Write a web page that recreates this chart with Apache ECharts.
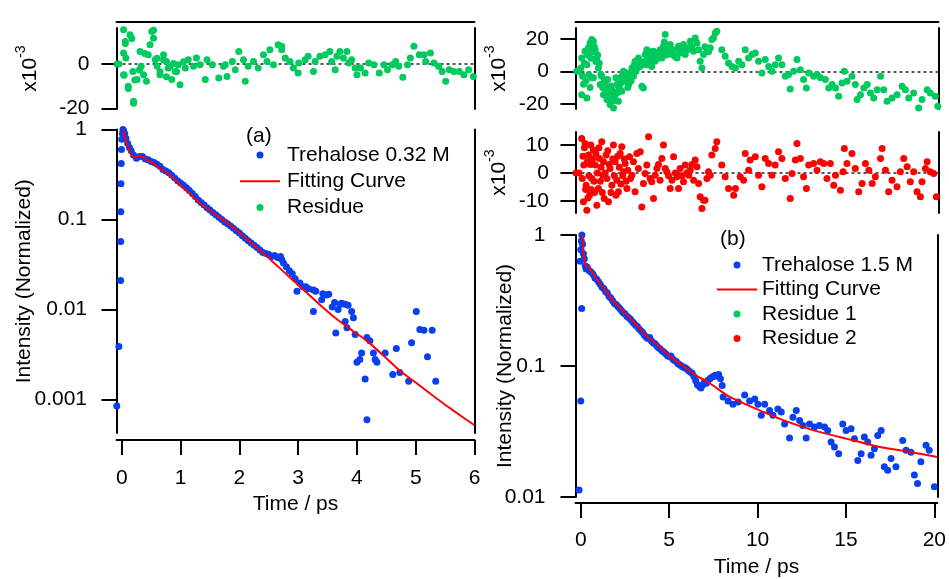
<!DOCTYPE html>
<html><head><meta charset="utf-8">
<script src="https://cdn.jsdelivr.net/npm/echarts@6/dist/echarts.min.js"></script>
<style>html,body{margin:0;padding:0;background:#fff}#c{width:949px;height:579px}</style>
</head><body><div id="c"></div>
<script>
// ---------------- Panel (a) ----------------
const aTickX = [0, 1, 2, 3, 4, 5, 6];
const aTickY = [0.001, 0.01, 0.1, 1];
const aResTickY = [-20, 0];
const aData = [
[-0.085,0.00085],[-0.05,0.0039],[-0.02,0.021],[-0.018,0.057],[-0.016,0.122],[-0.014,0.25],[-0.01,0.42],[-0.005,0.6],[0.0,0.78],[0.01,0.9],[0.02,1.0],[0.03,0.97],[0.05,0.9],[0.07,0.8],[0.1,0.7],[0.13,0.63],[0.16,0.58],[0.2,0.52],[0.25,0.48],[0.3,0.5],[0.35,0.5],[0.4,0.47],[0.45,0.46],[0.5,0.44],[0.55,0.43],[0.6,0.41],[0.65,0.39],[0.7,0.36],[0.75,0.345],[0.8,0.33],[0.85,0.31],[0.9,0.29],[0.95,0.27],[1.0,0.255],[1.05,0.24],[1.1,0.225],[1.15,0.21],[1.2,0.195],[1.25,0.18],[1.3,0.165],[1.35,0.155],[1.4,0.145],[1.45,0.135],[1.5,0.128],[1.55,0.12],[1.6,0.113],[1.65,0.106],[1.7,0.1],[1.75,0.094],[1.8,0.09],[1.85,0.085],[1.9,0.08],[1.95,0.075],[2.0,0.071],[2.05,0.066],[2.1,0.062],[2.15,0.058],[2.2,0.055],[2.25,0.052],[2.3,0.049],[2.35,0.046],[2.4,0.043],[2.45,0.042],[2.5,0.041],[2.55,0.039],[2.6,0.04],[2.65,0.038],[2.7,0.039],[2.72,0.036],[2.75,0.033],[2.8,0.03],[2.85,0.027],[2.9,0.025],[2.95,0.022],[2.98,0.016],[3.03,0.0197],[3.08,0.018],[3.13,0.018],[3.18,0.017],[3.26,0.0165],[3.3,0.016],[3.26,0.0095],[3.4,0.0129],[3.42,0.015],[3.48,0.0145],[3.52,0.0148],[3.58,0.0107],[3.62,0.012],[3.64,0.0055],[3.68,0.010],[3.72,0.0115],[3.74,0.0118],[3.8,0.0074],[3.8,0.0115],[3.83,0.0063],[3.85,0.0112],[3.91,0.0095],[3.94,0.0081],[3.97,0.0053],[4.0,0.0026],[4.05,0.0028],[4.08,0.0033],[4.14,0.0017],[4.17,0.0006],[4.17,0.0049],[4.22,0.0045],[4.28,0.0033],[4.31,0.0028],[4.34,0.0026],[4.48,0.0033],[4.61,0.0019],[4.67,0.0037],[4.73,0.002],[4.88,0.0016],[4.93,0.0043],[5.01,0.0095],[5.07,0.006],[5.14,0.0059],[5.2,0.003],[5.28,0.0059],[5.34,0.0016]
];
const aFitX = [0.02,0.05,0.085,0.13,0.2,0.3,0.4,0.48,0.6,0.77,1.0,1.33,1.6,1.9,2.2,2.47,2.8,3.1,3.37,3.6,3.9,4.17,4.45,4.73,5.0,5.3,5.6,6.0];
const aFitY = [1.0,0.86,0.70,0.58,0.50,0.51,0.47,0.44,0.39,0.33,0.24,0.152,0.113,0.081,0.055,0.039,0.0247,0.0164,0.0113,0.0084,0.006,0.0045,0.0031,0.0021,0.00155,0.0011,0.00079,0.00052];
const aResidue = [
[-0.08,0],[-0.05,0],[0.03,15.5],[0.03,5],[0.04,-5],[0.06,10.2],[0.06,9.3],[0.07,2.7],[0.03,-4.8],[0.11,-10],[0.11,-11],[0.14,13.2],[0.17,11.6],[0.19,-3.3],[0.2,-16.8],[0.2,-17.7],[0.22,-7.2],[0.26,-7],[0.3,-2.7],[0.31,5.7],[0.33,-1],[0.37,-4.8],[0.39,4.8],[0.42,-7.8],[0.45,4.2],[0.48,8.7],[0.51,14.7],[0.54,11.7],[0.54,15.3],[0.57,2],[0.6,-1],[0.6,2.6],[0.65,-4.8],[0.65,-3.5],[0.71,4.2],[0.71,1.8],[0.76,1.2],[0.76,-5.7],[0.79,-1.8],[0.82,-1.2],[0.85,-7],[0.88,0.3],[0.91,-3.3],[0.93,-3.5],[0.96,-0.3],[0.99,-9.3],[1.05,1.1],[1.08,-1.8],[1.13,2],[1.22,-1],[1.27,2.7],[1.33,-0.3],[1.42,-7],[1.45,2],[1.54,-0.3],[1.65,-6.3],[1.73,-1],[1.76,-0.3],[1.79,-5.6],[1.88,1.2],[1.93,-2.6],[1.99,5.7],[2.07,2],[2.1,-7.8],[2.15,-1],[2.24,1.2],[2.32,-1.8],[2.41,4.2],[2.47,1.2],[2.52,6.5],[2.58,-0.3],[2.66,8.7],[2.72,6.5],[2.72,8],[2.78,2.7],[2.86,1.2],[2.92,-1.8],[3.0,-4],[3.01,0.5],[3.12,2],[3.17,3.5],[3.26,-3.3],[3.29,1.2],[3.37,3.5],[3.46,4.2],[3.54,5.7],[3.57,1.2],[3.63,-2.6],[3.66,3.5],[3.71,5.7],[3.77,2.7],[3.83,5.7],[3.86,0.5],[3.91,2],[3.97,-1.8],[4.0,-4.8],[4.06,-1.8],[4.14,-4],[4.2,0.5],[4.29,-0.3],[4.38,-4],[4.46,-0.3],[4.52,-2.6],[4.6,-0.3],[4.66,1.2],[4.71,-1],[4.78,-6],[4.86,-0.3],[4.91,2.7],[4.97,8],[5.06,4.2],[5.14,4.2],[5.17,1.2],[5.25,5],[5.31,0.5],[5.39,-1],[5.45,-3.3],[5.51,-7.8],[5.57,-2.6],[5.65,-3.3],[5.74,-3.3],[5.82,-4.8],[5.9,-2.6],[5.98,-5.6]
];

// ---------------- Panel (b) ----------------
const bTickX = [0, 5, 10, 15, 20];
const bTickY = [0.01, 0.1, 1];
const bRes1TickY = [-20, 0, 20];
const bRes2TickY = [-10, 0, 10];
const bData = [
[-0.1,0.0113],[0.0,0.054],[0.05,0.275],[-0.04,0.63],[0.0,0.77],[0.03,0.9],[0.06,1.0],[0.1,0.85],[0.15,0.72],[0.2,0.66],[0.25,0.58],[0.3,0.55],[0.35,0.57],[0.4,0.55],[0.5,0.53],[0.6,0.52],[0.7,0.5],[0.8,0.47],[0.9,0.46],[1.0,0.44],[1.1,0.42],[1.2,0.4],[1.3,0.39],[1.4,0.37],[1.5,0.36],[1.6,0.34],[1.7,0.33],[1.8,0.315],[1.9,0.3],[2.0,0.295],[2.1,0.285],[2.2,0.275],[2.3,0.265],[2.4,0.255],[2.5,0.25],[2.6,0.24],[2.7,0.235],[2.8,0.228],[2.9,0.22],[3.0,0.212],[3.1,0.205],[3.2,0.2],[3.3,0.192],[3.4,0.186],[3.5,0.18],[3.6,0.172],[3.7,0.166],[3.8,0.162],[3.9,0.165],[4.0,0.155],[4.1,0.15],[4.2,0.148],[4.3,0.142],[4.4,0.138],[4.5,0.135],[4.6,0.13],[4.7,0.128],[4.8,0.124],[4.9,0.12],[5.0,0.118],[5.1,0.119],[5.2,0.113],[5.3,0.11],[5.4,0.108],[5.5,0.104],[5.6,0.102],[5.7,0.1],[5.8,0.098],[5.9,0.097],[6.0,0.095],[6.1,0.092],[6.2,0.09],[6.3,0.088],[6.4,0.083],[6.5,0.077],[6.6,0.072],[6.7,0.07],[6.8,0.068],[6.9,0.072],[7.0,0.075],[7.1,0.074],[7.2,0.078],[7.3,0.08],[7.4,0.082],[7.5,0.083],[7.6,0.085],[7.7,0.084],[7.8,0.086],[7.9,0.08],[8.0,0.071],[8.05,0.058],[8.33,0.054],[8.61,0.051],[8.9,0.053],[9.27,0.06],[9.55,0.054],[9.84,0.056],[10.02,0.051],[10.21,0.042],[10.4,0.051],[10.68,0.0457],[10.87,0.042],[11.15,0.047],[11.34,0.0445],[11.53,0.036],[11.81,0.0282],[12.0,0.0407],[12.19,0.0457],[12.38,0.0384],[12.56,0.0352],[12.75,0.0282],[12.94,0.036],[13.22,0.0342],[13.5,0.0352],[13.79,0.0342],[13.97,0.0322],[14.16,0.0263],[14.35,0.0241],[14.59,0.0214],[14.82,0.036],[15.01,0.0322],[15.29,0.0332],[15.48,0.0279],[15.67,0.019],[15.86,0.0214],[16.04,0.0287],[16.23,0.0263],[16.42,0.0208],[16.61,0.0234],[16.8,0.0295],[16.99,0.0322],[17.17,0.017],[17.36,0.016],[17.55,0.0197],[17.83,0.017],[18.21,0.027],[18.4,0.0227],[18.68,0.022],[18.87,0.0147],[19.05,0.0127],[19.24,0.0186],[19.53,0.0248],[19.71,0.0227],[20.0,0.012],[20.18,0.0147]
];
const bFitX = [0.06,0.15,0.24,0.3,0.5,0.81,1.3,1.84,2.3,2.78,3.2,3.72,4.4,5.04,5.8,6.55,7.0,7.48,8.43,9.93,11.25,13.13,15.0,16.9,18.77,20.17];
const bFitY = [1.0,0.77,0.60,0.575,0.56,0.48,0.39,0.312,0.27,0.233,0.202,0.169,0.142,0.119,0.1,0.084,0.078,0.071,0.058,0.047,0.0395,0.0324,0.0279,0.0241,0.0219,0.0202];
const bResidue1 = [
[-0.23,0],[-0.1,0],[0.0,2],[0.05,8.2],[0.05,-14.4],[0.1,-3],[0.15,-8],[0.2,5],[0.24,12.3],[0.28,-6],[0.34,4],[0.34,-16.4],[0.38,10],[0.43,14.4],[0.45,-2],[0.52,17.4],[0.52,-10],[0.57,8],[0.62,19.5],[0.62,-4],[0.66,12],[0.71,18.5],[0.71,-4],[0.76,15],[0.81,13.3],[0.85,6],[0.9,8.2],[0.95,10],[0.99,2],[1.04,5],[1.09,-8.2],[1.13,-2],[1.18,-3],[1.23,-10],[1.28,-14.4],[1.32,-6],[1.37,-8.2],[1.42,-12],[1.47,-17.4],[1.51,-5],[1.56,-11.3],[1.6,-15],[1.65,-20.5],[1.7,-9],[1.75,-16.4],[1.8,-12],[1.84,-22.6],[1.89,-18],[1.94,-14.4],[1.98,-4],[2.03,-8.2],[2.08,-13],[2.12,-18.5],[2.17,-10],[2.22,-4],[2.26,-7],[2.31,-12.3],[2.36,-2],[2.41,0],[2.45,-5],[2.5,-6.2],[2.55,-1],[2.6,-3],[2.65,-10],[2.69,-8.2],[2.74,-4],[2.78,-1],[2.83,-6],[2.88,2],[2.93,0],[2.97,-3],[3.02,4],[3.06,6.2],[3.11,0],[3.16,2],[3.2,5],[3.25,8.2],[3.3,6],[3.35,3],[3.44,-9.2],[3.53,-10.3],[3.58,6],[3.63,10.3],[3.68,4],[3.72,13.3],[3.77,7],[3.82,4],[3.87,9],[3.91,8.2],[3.96,12],[4.0,3],[4.05,7],[4.1,12.3],[4.15,9],[4.19,6.2],[4.24,11],[4.29,10.3],[4.38,8],[4.47,13.3],[4.52,10],[4.57,8.2],[4.62,12],[4.66,15.4],[4.71,18],[4.76,22.6],[4.8,10],[4.85,12.3],[4.95,14],[5.04,16.4],[5.09,12],[5.14,10.3],[5.23,13.3],[5.33,9],[5.42,8.2],[5.51,15.4],[5.56,11],[5.6,12.3],[5.7,14],[5.79,16.4],[5.89,10.3],[5.98,13],[6.08,14.4],[6.17,18.5],[6.27,15],[6.36,12.3],[6.45,20.5],[6.55,17.4],[6.64,13.3],[6.73,6.2],[6.83,2],[6.92,10.3],[7.0,15],[7.11,13.3],[7.2,12],[7.3,14.4],[7.39,19.5],[7.48,20.5],[7.58,23.6],[7.67,24.6],[7.77,26.7],[7.86,27.7],[7.95,13.3],[8.14,9.2],[8.33,5.1],[8.52,3],[8.72,2],[8.9,6.2],[9.08,4],[9.27,13.3],[9.46,8.2],[9.65,10.3],[9.84,11.3],[10.02,6.2],[10.21,-1],[10.4,7.2],[10.59,3],[10.78,0],[10.96,4],[11.15,8.2],[11.34,4],[11.53,-3],[11.72,-2],[11.81,-10.9],[12.0,0],[12.19,7.2],[12.38,1],[12.56,-5.1],[12.72,-10.3],[12.85,-1],[13.13,-3],[13.32,-2],[13.51,-4],[13.79,-5.1],[13.98,-10.3],[14.17,-8.2],[14.36,-10.3],[14.54,-15.4],[14.73,-7.2],[14.86,0],[15.01,-6.2],[15.29,-3],[15.48,-8.2],[15.58,-17.4],[15.77,-14.4],[15.96,-10.3],[16.15,-8.2],[16.33,-13.3],[16.52,-16.4],[16.71,-11.3],[16.9,-3],[17.08,-11.3],[17.27,-18.5],[17.55,-16.4],[17.83,-14.4],[18.12,-9.2],[18.3,-11.3],[18.49,-16.4],[18.77,-13.3],[19.05,-22.6],[19.24,-17.4],[19.53,-11.3],[19.71,-13.3],[19.99,-15.4],[20.13,-21.5]
];
const bResidue2 = [
[-0.27,0],[-0.1,0],[0.05,12.4],[0.08,-2],[0.12,6],[0.15,-10.4],[0.17,2.8],[0.2,9],[0.24,10.6],[0.27,-6],[0.3,-4.4],[0.34,-13.4],[0.37,4],[0.4,-9],[0.43,6.4],[0.46,-1],[0.49,-8],[0.53,3],[0.56,10],[0.59,-6],[0.62,-2],[0.66,5],[0.71,8.2],[0.74,-3],[0.78,-7],[0.81,2.8],[0.85,7],[0.9,-11.6],[0.93,0],[0.99,-5.6],[1.02,9],[1.05,5.2],[1.1,-3],[1.14,2],[1.18,11.2],[1.21,-7],[1.24,-0.8],[1.28,4],[1.32,-9.2],[1.37,0],[1.43,6.4],[1.47,-2],[1.52,8],[1.56,-10.4],[1.6,3],[1.65,1.6],[1.7,-7],[1.75,-4.4],[1.8,5],[1.84,10],[1.89,-1],[1.94,4],[1.98,-8],[2.03,-2.6],[2.08,6],[2.12,-6.8],[2.17,2],[2.22,7],[2.26,-4],[2.31,9.4],[2.36,-1],[2.41,0.4],[2.45,5],[2.5,3.4],[2.55,-3],[2.6,-5.6],[2.65,1],[2.75,5.8],[2.8,-2],[2.88,-0.8],[2.97,4],[3.06,-6.8],[3.16,7],[3.25,1.6],[3.35,7.6],[3.44,-12.2],[3.53,-3.8],[3.63,-0.2],[3.72,2.8],[3.82,13],[3.91,-2],[4.0,-3.2],[4.1,-9.2],[4.19,-0.8],[4.29,1.6],[4.38,3],[4.47,-2.6],[4.57,5.2],[4.66,10],[4.76,1.6],[4.85,0.4],[4.95,-1],[5.04,-5.6],[5.14,-2.6],[5.23,5.8],[5.33,0],[5.42,-1.4],[5.51,-5.6],[5.6,1.6],[5.7,-1],[5.79,-3.2],[5.89,2.8],[5.98,0],[6.08,-0.8],[6.17,1],[6.27,3],[6.36,-2.6],[6.45,4.6],[6.55,2.2],[6.64,-3.8],[6.73,-8.6],[6.83,-12.8],[6.92,-9.8],[7.0,-9.8],[7.11,-2],[7.2,0.4],[7.3,-0.8],[7.39,6.4],[7.58,8.8],[7.67,11.2],[7.82,15.3],[7.95,2.8],[8.14,-1.4],[8.33,-5.6],[8.62,-8],[8.72,-5.6],[8.99,-1.4],[9.18,-2.6],[9.27,7],[9.46,1],[9.55,4.6],[9.84,5.8],[10.02,-0.8],[10.21,-5],[10.4,5.2],[10.59,3.4],[10.78,-0.8],[10.96,2.8],[11.15,7.6],[11.34,5.2],[11.53,-2],[11.81,-9.2],[11.91,-0.2],[12.1,4.6],[12.19,10.6],[12.38,5.2],[12.56,-1.4],[12.72,-5.6],[12.85,2.8],[13.13,3.4],[13.32,1],[13.51,4],[13.7,3.4],[13.88,-2],[14.07,3.4],[14.26,-4.4],[14.36,-0.8],[14.64,-6.2],[14.79,0.4],[14.86,8.8],[15.01,3.4],[15.29,7],[15.48,1.6],[15.67,-6.8],[15.86,-3.8],[16.05,3.4],[16.24,1],[16.43,-3.8],[16.61,-1.4],[16.9,5.2],[16.99,8.8],[17.18,1],[17.36,-6.8],[17.55,-2.6],[17.83,-5],[18.02,0.4],[18.21,5.2],[18.4,2.2],[18.58,-3.2],[18.77,0.4],[18.96,-6.8],[19.15,-8.6],[19.24,-3.2],[19.43,1.6],[19.53,4],[19.71,0.4],[19.9,-0.2],[20.05,-8.6],[20.18,-6.2]
];

// ---------------- build ----------------
const FONT = '"Liberation Sans", Arial, sans-serif';
const BLUE = '#0a3ff0', GREEN = '#00c95e', RED = '#ff0000';
const lg = v => Math.log10(v);
const logPts = arr => arr.map(p => [p[0], lg(p[1])]);
const fitPts = (xs, ys) => xs.map((x, i) => [x, lg(ys[i])]);
const fmtLog = v => String(Number(Math.pow(10, v).toPrecision(1)));

const lineStyle = {color: '#000', width: 2};
const txt = {fontSize: 21, fontFamily: FONT, color: '#000'};

function xAx(grid, min, max, ticks, margin, opts) {
  return Object.assign({
    type: 'value', gridIndex: grid, min, max, position: 'bottom', nameMoveOverlap: false,
    axisLine: {show: true, onZero: false, lineStyle},
    axisTick: {show: true, inside: false, length: 15, lineStyle, customValues: ticks},
    axisLabel: {show: true, customValues: ticks, margin, ...txt},
    splitLine: {show: false}
  }, opts || {});
}
function xTop(grid, min, max) {
  return {type: 'value', gridIndex: grid, min, max, position: 'top', offset: 6,
    axisLine: {show: true, onZero: false, lineStyle}, axisTick: {show: false},
    axisLabel: {show: false}, splitLine: {show: false}};
}
function xHidden(grid, min, max) {
  return {type: 'value', gridIndex: grid, min, max, show: false, axisLine: {onZero: false}};
}
function yAx(grid, min, max, ticks, fmt, margin, opts) {
  return Object.assign({
    type: 'value', gridIndex: grid, min, max, position: 'left', nameMoveOverlap: false,
    axisLine: {show: true, onZero: false, lineStyle},
    axisTick: {show: true, inside: false, length: 15, lineStyle, customValues: ticks},
    axisLabel: {show: true, customValues: ticks, formatter: fmt, margin, ...txt},
    splitLine: {show: false}
  }, opts || {});
}
function yRight(grid, min, max) {
  return {type: 'value', gridIndex: grid, min, max, position: 'right',
    axisLine: {show: true, onZero: false, lineStyle}, axisTick: {show: false},
    axisLabel: {show: false}, splitLine: {show: false}};
}
const resName = {
  name: '{n|x10}{s|-3}', nameLocation: 'middle', nameRotate: 90,
  nameTextStyle: {...txt, rich: {n: {fontSize: 21, fontFamily: FONT, color: '#000', lineHeight: 32},
                                 s: {fontSize: 14, fontFamily: FONT, color: '#000', verticalAlign: 'top', lineHeight: 14}}}
};
const zeroLine = {silent: true, symbol: 'none', z: 1, animation: false, label: {show: false},
  lineStyle: {color: '#222', type: [3, 3], width: 1.5}, data: [{yAxis: 0}]};

const aXmin = -0.09, aXmax = 6, bXmin = -0.3, bXmax = 20.17;
const intensityName = {name: 'Intensity (Normalized)', nameLocation: 'middle', nameRotate: 90, nameTextStyle: txt};
const logFmt = v => fmtLog(v);
const intFmt = v => String(v);
const lineIcon = 'path://M0,0H40V2H0Z';

const option = {
  animation: false,
  backgroundColor: '#fff',
  grid: [
    {left: 116.5, top: 28, width: 358, height: 81},
    {left: 116.5, top: 129.5, width: 358, height: 303.5},
    {left: 575.5, top: 28, width: 363, height: 81},
    {left: 575.5, top: 132, width: 363, height: 81},
    {left: 575.5, top: 235, width: 363, height: 264}
  ],
  xAxis: [
    xTop(0, aXmin, aXmax),
    xAx(1, aXmin, aXmax, aTickX, 28, {offset: 7, name: 'Time / ps', nameLocation: 'middle', nameGap: 54, nameTextStyle: txt}),
    xTop(2, bXmin, bXmax),
    xHidden(3, bXmin, bXmax),
    xAx(4, bXmin, bXmax, bTickX, 27, {offset: 6, name: 'Time / ps', nameLocation: 'middle', nameGap: 54, nameTextStyle: txt})
  ],
  yAxis: [
    yAx(0, -20.3, 16.3, aResTickY, intFmt, 27, {...resName, nameGap: 70}),
    yAx(1, -3.37, 0, aTickY.map(lg), logFmt, 29.5, {...intensityName, nameGap: 82}),
    yAx(2, -23.2, 26.6, bRes1TickY, intFmt, 26.5, {...resName, nameGap: 60}),
    yAx(3, -14.4, 14.7, bRes2TickY, intFmt, 26.5, {...resName, nameGap: 60}),
    yAx(4, -2, 0, bTickY.map(lg), logFmt, 30, {...intensityName, nameGap: 60}),
    yRight(0, -20.3, 16.3), yRight(1, -3.37, 0), yRight(2, -23.2, 26.6), yRight(3, -14.4, 14.7), yRight(4, -2, 0)
  ],
  legend: [
    {orient: 'vertical', left: 235, top: 139.5, itemWidth: 40, itemHeight: 7, itemGap: 5.3,
     textStyle: {...txt, lineHeight: 21, padding: [0, 0, 0, 2]},
     data: ['Trehalose 0.32 M', {name: 'Fitting Curve', icon: lineIcon}, 'Residue']},
    {orient: 'vertical', left: 712, top: 249.5, itemWidth: 40, itemHeight: 7, itemGap: 3.5,
     textStyle: {...txt, lineHeight: 21, padding: [0, 0, 0, 0]},
     data: ['Trehalose 1.5 M', {name: 'Fitting Curve', icon: lineIcon}, 'Residue 1', 'Residue 2']}
  ],
  graphic: [
    {type: 'text', left: 246, top: 126, style: {text: '(a)', font: '21px ' + FONT, fill: '#000'}},
    {type: 'text', left: 720, top: 229, style: {text: '(b)', font: '21px ' + FONT, fill: '#000'}}
  ],
  series: [
    {type: 'scatter', name: 'Trehalose 0.32 M', xAxisIndex: 1, yAxisIndex: 1, symbolSize: 7,
     itemStyle: {color: BLUE, opacity: 1}, data: logPts(aData), z: 2},
    {type: 'line', name: 'Fitting Curve', xAxisIndex: 1, yAxisIndex: 1, symbol: 'none', smooth: 0.2,
     lineStyle: {color: RED, width: 2}, itemStyle: {color: RED}, data: fitPts(aFitX, aFitY), z: 3},
    {type: 'scatter', name: 'Residue', xAxisIndex: 0, yAxisIndex: 0, symbolSize: 7,
     itemStyle: {color: GREEN, opacity: 1}, data: aResidue, z: 2, markLine: zeroLine},
    {type: 'scatter', name: 'Trehalose 1.5 M', xAxisIndex: 4, yAxisIndex: 4, symbolSize: 7,
     itemStyle: {color: BLUE, opacity: 1}, data: logPts(bData), z: 2},
    {type: 'line', name: 'Fitting Curve', xAxisIndex: 4, yAxisIndex: 4, symbol: 'none', smooth: 0.2,
     lineStyle: {color: RED, width: 2}, itemStyle: {color: RED}, data: fitPts(bFitX, bFitY), z: 3},
    {type: 'scatter', name: 'Residue 1', xAxisIndex: 2, yAxisIndex: 2, symbolSize: 7,
     itemStyle: {color: GREEN, opacity: 1}, data: bResidue1, z: 2, markLine: zeroLine},
    {type: 'scatter', name: 'Residue 2', xAxisIndex: 3, yAxisIndex: 3, symbolSize: 7,
     itemStyle: {color: RED, opacity: 1}, data: bResidue2, z: 2, markLine: zeroLine}
  ]
};
const chart = echarts.init(document.getElementById('c'), null, {renderer: 'canvas'});
chart.setOption(option);
</script></body></html>
